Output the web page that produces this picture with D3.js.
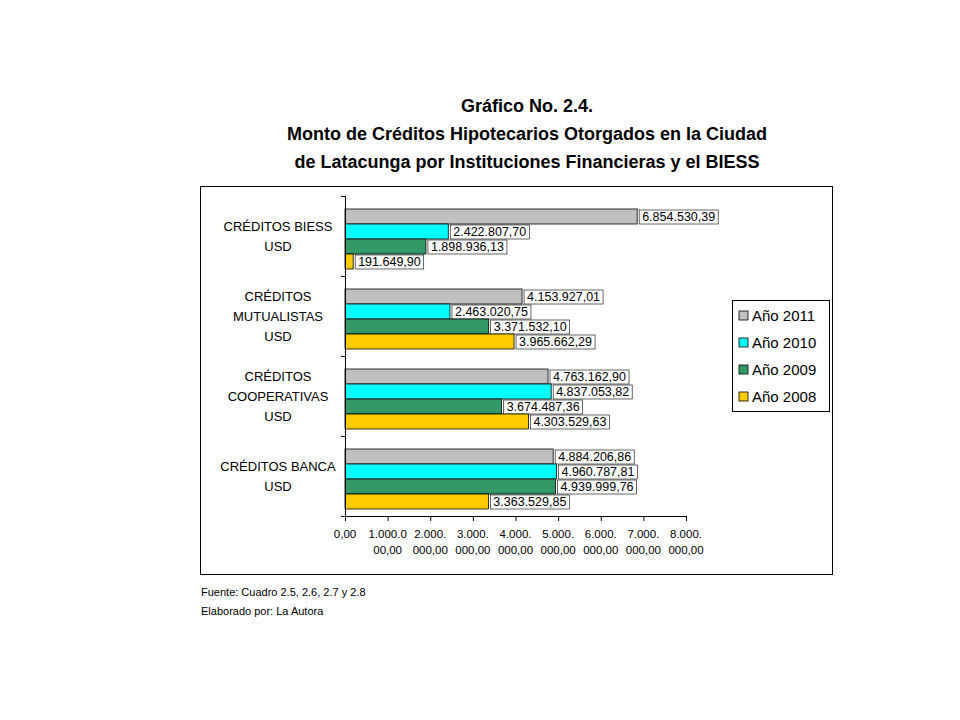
<!DOCTYPE html>
<html><head><meta charset="utf-8">
<script src="https://cdn.jsdelivr.net/npm/d3@7"></script>
<style>body{margin:0;background:#fff}svg text{font-family:Arial,"Liberation Sans",sans-serif}</style>
</head><body><svg id="c" width="960" height="720"></svg>
<script>
const categories = [["CRÉDITOS BIESS","USD"],["CRÉDITOS","MUTUALISTAS","USD"],["CRÉDITOS","COOPERATIVAS","USD"],["CRÉDITOS BANCA","USD"]];
const seriesNames = ["Año 2011","Año 2010","Año 2009","Año 2008"];
const seriesColors = ["#c0c0c0","#00ffff","#339966","#ffcc00"];
const values2011 = [6854530.39,4153927.01,4763162.90,4884206.86];
const values2010 = [2422807.70,2463020.75,4837053.82,4960787.81];
const values2009 = [1898936.13,3371532.10,3674487.36,4939999.76];
const values2008 = [191649.90,3965662.29,4303529.63,3363529.85];
const valueLabels2011 = ["6.854.530,39","4.153.927,01","4.763.162,90","4.884.206,86"];
const valueLabels2010 = ["2.422.807,70","2.463.020,75","4.837.053,82","4.960.787,81"];
const valueLabels2009 = ["1.898.936,13","3.371.532,10","3.674.487,36","4.939.999,76"];
const valueLabels2008 = ["191.649,90","3.965.662,29","4.303.529,63","3.363.529,85"];
const tickValues = [0,1e6,2e6,3e6,4e6,5e6,6e6,7e6,8e6];
const tickLabels = [["0,00",""],["1.000.0","00,00"],["2.000.","000,00"],["3.000.","000,00"],["4.000.","000,00"],["5.000.","000,00"],["6.000.","000,00"],["7.000.","000,00"],["8.000.","000,00"]];

const svg = d3.select("#c");
const series = [values2011,values2010,values2009,values2008];
const labels = [valueLabels2011,valueLabels2010,valueLabels2009,valueLabels2008];
// title
const title = ["Gráfico No. 2.4.","Monto de Créditos Hipotecarios Otorgados en la Ciudad","de Latacunga por Instituciones Financieras y el BIESS"];
svg.selectAll("text.t").data(title).join("text").attr("x",527).attr("y",(d,i)=>112+i*28)
  .attr("text-anchor","middle").attr("font-size",18).attr("font-weight","bold").text(d=>d);
svg.append("rect").attr("x",200.5).attr("y",186.5).attr("width",632).attr("height",388).attr("fill","#fff").attr("stroke","#000");

const x = d3.scaleLinear().domain([0,8e6]).range([345,686]);
const y = d3.scaleBand().domain(d3.range(4)).range([196,516]);
const inner = d3.scaleBand().domain(d3.range(4)).range([13,73]);

const g = svg.append("g");
for (let s=0;s<4;s++){
  for (let c=0;c<4;c++){
    const y0 = y(c)+inner(s);
    g.append("rect").attr("x",x(0)).attr("y",y0).attr("width",x(series[s][c])-x(0)).attr("height",inner.bandwidth())
     .attr("fill",seriesColors[s]).attr("stroke","#000").attr("stroke-width",0.8);
    const lx = x(series[s][c])+2;
    const t = g.append("text").attr("x",lx+3).attr("y",y0+12).attr("font-size",12.5).text(labels[s][c]);
    const w = t.node().getComputedTextLength();
    g.insert("rect","text:last-child").attr("x",lx).attr("y",y0+1).attr("width",w+6).attr("height",14).attr("fill","#fff").attr("stroke","#000").attr("stroke-width",0.6);
    t.raise();
  }
}
// y axis
g.append("line").attr("x1",345.5).attr("x2",345.5).attr("y1",196).attr("y2",516).attr("stroke","#000");
for (let i=0;i<=4;i++){ const yy = i<4? y(i):516; g.append("line").attr("x1",341).attr("x2",345).attr("y1",yy+.5).attr("y2",yy+.5).attr("stroke","#000"); }
categories.forEach((lines,c)=>{
  const cy = y(c)+y.bandwidth()/2;
  lines.forEach((l,i)=>g.append("text").attr("x",278).attr("y",cy+5-(lines.length-1)*10+i*20).attr("text-anchor","middle").attr("font-size",13).text(l));
});
// x axis
g.append("line").attr("x1",345).attr("x2",686).attr("y1",516.5).attr("y2",516.5).attr("stroke","#000");
tickValues.forEach((v,i)=>{
  g.append("line").attr("x1",x(v)+.5).attr("x2",x(v)+.5).attr("y1",516).attr("y2",521).attr("stroke","#000");
  tickLabels[i].forEach((l,j)=>g.append("text").attr("x",x(v)).attr("y",538+j*16).attr("text-anchor","middle").attr("font-size",11.5).text(l));
});
// legend
svg.append("rect").attr("x",732.5).attr("y",300.5).attr("width",97).attr("height",111).attr("fill","#fff").attr("stroke","#000");
seriesNames.forEach((n,i)=>{
  const yy = 316+i*27;
  svg.append("rect").attr("x",739).attr("y",yy-5).attr("width",9).attr("height",9).attr("fill",seriesColors[i]).attr("stroke","#000").attr("stroke-width",0.8);
  svg.append("text").attr("x",752).attr("y",yy+5).attr("font-size",15).text(n);
});
svg.append("text").attr("x",201).attr("y",596).attr("font-size",11).text("Fuente: Cuadro 2.5, 2.6, 2.7 y 2.8");
svg.append("text").attr("x",201).attr("y",615).attr("font-size",11).text("Elaborado por: La Autora");
</script></body></html>
